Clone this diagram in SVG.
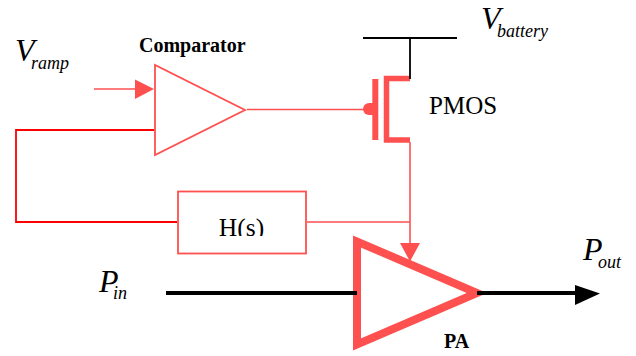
<svg xmlns="http://www.w3.org/2000/svg" width="636" height="356" viewBox="0 0 636 356">
<style>
.t{font-family:"Liberation Serif","Times New Roman",serif;fill:#000}
.i{font-style:italic;font-size:32px}
.s{font-size:18px}
.b{font-weight:bold;font-size:20px}
.thin{fill:none;stroke:#ff5050;stroke-width:1.6}
.fill{fill:#ff5050;stroke:none}
.blk{fill:none;stroke:#000}
</style>
<defs><clipPath id="hc"><rect x="180" y="193" width="124" height="43"/></clipPath></defs>
<rect width="636" height="356" fill="#fff"/>
<g id="comparator">
<polygon points="155,65 155,155 245,110" fill="#fff" stroke="#ff5050" stroke-width="1.800"/>
<text class="t b" x="139" y="52">Comparator</text>
</g>
<g id="pmos">
<path class="fill" d="M369 103A6 6 0 0 0 369 115H373V103Z"/>
<rect class="fill" x="372.300" y="79" width="6" height="61"/>
<path fill="none" stroke="#ff5050" stroke-width="5.500" d="M410 78.500H386.500V140H410"/>
<text class="t" x="429" y="114" font-size="25">PMOS</text>
</g>
<g id="hs">
<rect x="178" y="191.500" width="128" height="62" fill="#fff" stroke="#ff5050" stroke-width="1.800"/>
<text class="t" x="241.500" y="236" font-size="25.500" text-anchor="middle" clip-path="url(#hc)">H(s)</text>
</g>
<g id="pa">
<polygon points="357,241.500 357,344.500 477,293" fill="#fff" stroke="#ff5050" stroke-width="8"/>
<text class="t b" x="444" y="347.500">PA</text>
</g>
<g id="connectors">
<path class="thin" d="M94 89H136"/>
<polygon class="fill" points="135,79.500 154,89 135,99"/>
<path fill="none" stroke="#ff0000" stroke-width="1.800" d="M154 130H16V222H177"/>
<path class="thin" d="M247 109.500H366"/>
<path class="thin" d="M307 222H410M410 142V244"/>
<polygon class="fill" points="400,243 420,243 410,261.500"/>
<path class="blk" stroke-width="1.800" d="M363 38H457M410 38V79"/>
<path class="blk" stroke-width="4" d="M166 293H357"/>
<path class="blk" stroke-width="4" d="M477 293H576"/>
<polygon fill="#000" points="575,285 600,293.500 575,305"/>
</g>
<g id="labels">
<text class="t i" x="15" y="61">V<tspan class="s" x="31" y="69">ramp</tspan></text>
<text class="t i" x="481" y="29">V<tspan class="s" x="497" y="37">battery</tspan></text>
<text class="t i" x="99" y="292">P<tspan class="s" x="113" y="299">in</tspan></text>
<text class="t i" x="583" y="260">P<tspan class="s" x="598" y="268">out</tspan></text>
</g>
</svg>
